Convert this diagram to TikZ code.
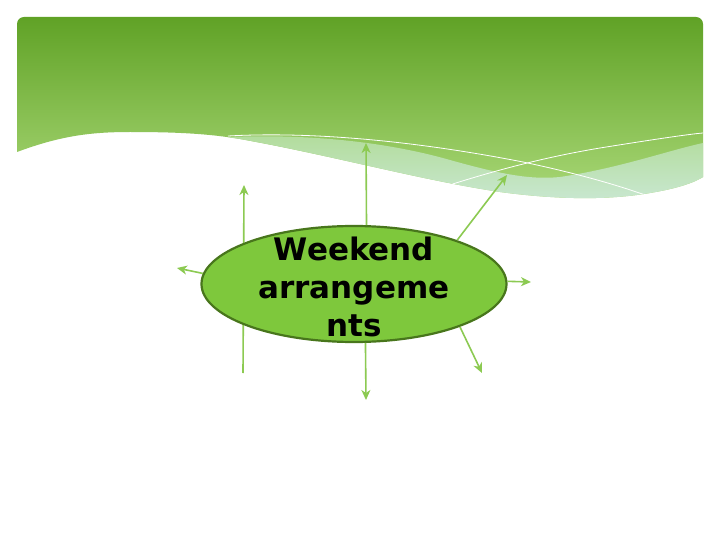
\documentclass[tikz,border=0pt]{standalone}
\usepackage{fontspec}
\setmainfont{DejaVu Sans}
\usetikzlibrary{shapes.geometric,arrows.meta}
\definecolor{bantop}{RGB}{96,162,38}
\definecolor{banbot}{RGB}{172,218,122}
\definecolor{paletop}{RGB}{178,220,155}
\definecolor{palebot}{RGB}{202,232,212}
\definecolor{ellfill}{RGB}{126,200,60}
\definecolor{elldraw}{RGB}{72,118,28}
\definecolor{arrowgreen}{RGB}{140,202,82}
\tikzset{
  conn/.style={draw=arrowgreen, line width=1.6pt, -{Stealth[length=10pt,width=9pt,inset=3pt]}},
  hub/.style={ellipse, draw=elldraw, line width=2.2pt, fill=ellfill, minimum width=305pt, minimum height=116pt, inner sep=0pt},
  hubtext/.style={align=center, font=\fontsize{31}{38}\selectfont\bfseries, text=black, inner sep=0pt}
}
\begin{document}
\begin{tikzpicture}[x=1pt,y=-1pt]
\useasboundingbox (0,0) rectangle (720,540);
\fill[white] (0,0) rectangle (720,540);
% banner
\begin{scope}
\clip (17,152) [rounded corners=7pt]-- (17,17) -- (703,17) [sharp corners]-- (703,177)
  .. controls (695,182) and (680,188) .. (650,193)
  .. controls (610,200) and (560,200) .. (500,192)
  .. controls (420,180) and (330,155) .. (240,139)
  .. controls (210,134) and (180,132) .. (130,132)
  .. controls (90,132) and (60,136) .. (17,152) -- cycle;
\shade[top color=bantop, bottom color=banbot] (17,17) rectangle (703,205);
\shade[top color=paletop, bottom color=palebot]
  (228,137) .. controls (300,134) and (380,140) .. (450,160)
  .. controls (500,174) and (530,180) .. (560,177)
  .. controls (620,168) and (670,150) .. (703,143)
  -- (703,205) -- (228,205) -- cycle;
\draw[white, line width=0.8pt] (228,136) .. controls (300,132) and (400,138) .. (523,162)
  .. controls (580,174) and (620,186) .. (648,196);
\draw[white, line width=0.8pt] (440,188) .. controls (490,172) and (540,158) .. (600,148)
  .. controls (650,140) and (690,134) .. (703,133);
\end{scope}
% connector behind hub
\coordinate (lb) at (243,373);
\coordinate (lt) at (244,185);
\draw[conn] (lb) -- (lt);
% hub
\node[hub] (c) at (354,284) {};
\node[hubtext] (t) at (354,287) {Weekend\\arrangeme\\nts};
% free ends
\coordinate (etop) at (366,143);
\coordinate (eur) at (507,175);
\coordinate (er) at (531,282);
\coordinate (elr) at (482,373);
\coordinate (eb) at (366,400);
\coordinate (el) at (177,268);
\draw[conn] (c.78) -- (etop);
\draw[conn] (c.23) -- (eur);
\draw[conn] (c.1) -- (er);
\draw[conn] (c.-22) -- (elr);
\draw[conn] (c.-79) -- (eb);
\draw[conn] (c.176) -- (el);
\end{tikzpicture}
\end{document}
